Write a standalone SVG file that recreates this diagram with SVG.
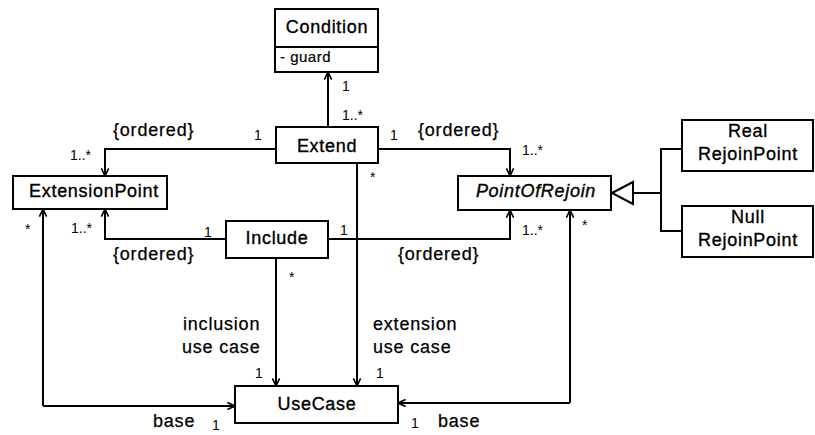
<svg xmlns="http://www.w3.org/2000/svg" width="815" height="435" viewBox="0 0 815 435">
  <style>
    text { font-family: "Liberation Sans", Arial, sans-serif; fill: #000; }
    .box { fill: #fff; stroke: #000; stroke-width: 2; }
    .name { font-size: 18px; letter-spacing: 0.7px; text-anchor: middle; stroke: #000; stroke-width: 0.35px; }
    .lbl { font-size: 18px; letter-spacing: 0.8px; stroke: #000; stroke-width: 0.25px; }
    .attr { font-size: 15px; letter-spacing: 0.5px; stroke: #000; stroke-width: 0.2px; }
    .mult { font-size: 14px; }
    .edge { fill: none; stroke: #000; stroke-width: 2; }
  </style>
  <defs>
    <marker id="open" viewBox="0 0 10 10" refX="9.5" refY="5" markerWidth="9" markerHeight="11" markerUnits="userSpaceOnUse" orient="auto">
      <path d="M1,1 L9.5,5 L1,9" fill="none" stroke="#000" stroke-width="1.8"/>
    </marker>
  </defs>

  <!-- associations -->
  <g id="connectors">
    <!-- Extend -> Condition -->
    <path class="edge" d="M328,127 V72" marker-end="url(#open)"/>
    <!-- Extend -> ExtensionPoint -->
    <path class="edge" d="M276,149 H105 V176" marker-end="url(#open)"/>
    <!-- Extend -> PointOfRejoin -->
    <path class="edge" d="M378,149 H510 V176" marker-end="url(#open)"/>
    <!-- Include -> ExtensionPoint -->
    <path class="edge" d="M226,239 H105 V209" marker-end="url(#open)"/>
    <!-- Include -> PointOfRejoin -->
    <path class="edge" d="M328,239 H510 V210" marker-end="url(#open)"/>
    <!-- Include -> UseCase (inclusion use case) -->
    <path class="edge" d="M276,258 V386" marker-end="url(#open)"/>
    <!-- Extend -> UseCase (extension use case) -->
    <path class="edge" d="M357,163 V386" marker-end="url(#open)"/>
    <!-- ExtensionPoint <-> UseCase (base) -->
    <path class="edge" d="M43,406 V209" marker-end="url(#open)"/>
    <path class="edge" d="M43,406 H235" marker-end="url(#open)"/>
    <!-- PointOfRejoin <-> UseCase (base) -->
    <path class="edge" d="M570,403 V210" marker-end="url(#open)"/>
    <path class="edge" d="M570,403 H398" marker-end="url(#open)"/>
    <!-- generalization to PointOfRejoin -->
    <path class="edge" d="M682,149 H661 V231 H682 M661,193 H633"/>
    <polygon points="612,193 633,182 633,204" fill="#fff" stroke="#000" stroke-width="2"/>

    <!-- role names and constraints -->
    <text class="lbl" x="113" y="136">{ordered}</text>
    <text class="lbl" x="418" y="136">{ordered}</text>
    <text class="lbl" x="113" y="260">{ordered}</text>
    <text class="lbl" x="398" y="260">{ordered}</text>
    <text class="lbl" x="183" y="330">inclusion</text>
    <text class="lbl" x="182" y="353">use case</text>
    <text class="lbl" x="373" y="330">extension</text>
    <text class="lbl" x="373" y="353">use case</text>
    <text class="lbl" x="153" y="427">base</text>
    <text class="lbl" x="438" y="427">base</text>

    <!-- multiplicities -->
    <text class="mult" x="342" y="91">1</text>
    <text class="mult" x="342" y="120">1..*</text>
    <text class="mult" x="254" y="140">1</text>
    <text class="mult" x="390" y="140">1</text>
    <text class="mult" x="370" y="182">*</text>
    <text class="mult" x="70" y="160">1..*</text>
    <text class="mult" x="522" y="155">1..*</text>
    <text class="mult" x="204" y="237">1</text>
    <text class="mult" x="340" y="235">1</text>
    <text class="mult" x="71" y="233">1..*</text>
    <text class="mult" x="522" y="235">1..*</text>
    <text class="mult" x="25" y="234">*</text>
    <text class="mult" x="582" y="230">*</text>
    <text class="mult" x="289" y="282">*</text>
    <text class="mult" x="255" y="378">1</text>
    <text class="mult" x="376" y="378">1</text>
    <text class="mult" x="212" y="430">1</text>
    <text class="mult" x="411" y="428">1</text>
  </g>

  <g id="condition">
    <rect class="box" x="275" y="9" width="103" height="63"/>
    <line x1="275" y1="47" x2="378" y2="47" stroke="#000" stroke-width="2"/>
    <text class="name" x="327" y="33">Condition</text>
    <text class="attr" x="280" y="62">- guard</text>
  </g>

  <g id="extend">
    <rect class="box" x="276" y="127" width="102" height="36"/>
    <text class="name" x="327" y="152">Extend</text>
  </g>

  <g id="include">
    <rect class="box" x="226" y="221" width="102" height="37"/>
    <text class="name" x="277" y="244">Include</text>
  </g>

  <g id="extension-point">
    <rect class="box" x="13" y="176" width="154" height="33"/>
    <text class="name" x="94" y="197">ExtensionPoint</text>
  </g>

  <g id="point-of-rejoin">
    <rect class="box" x="458" y="176" width="153" height="34"/>
    <text class="name" x="536" y="197" font-style="italic">PointOfRejoin</text>
  </g>

  <g id="real-rejoin-point">
    <rect class="box" x="682" y="120" width="131" height="51"/>
    <text class="name" x="748" y="137">Real</text>
    <text class="name" x="748" y="160">RejoinPoint</text>
  </g>

  <g id="null-rejoin-point">
    <rect class="box" x="682" y="206" width="131" height="51"/>
    <text class="name" x="748" y="223">Null</text>
    <text class="name" x="748" y="246">RejoinPoint</text>
  </g>

  <g id="use-case">
    <rect class="box" x="235" y="386" width="163" height="37"/>
    <text class="name" x="317" y="410">UseCase</text>
  </g>
</svg>
